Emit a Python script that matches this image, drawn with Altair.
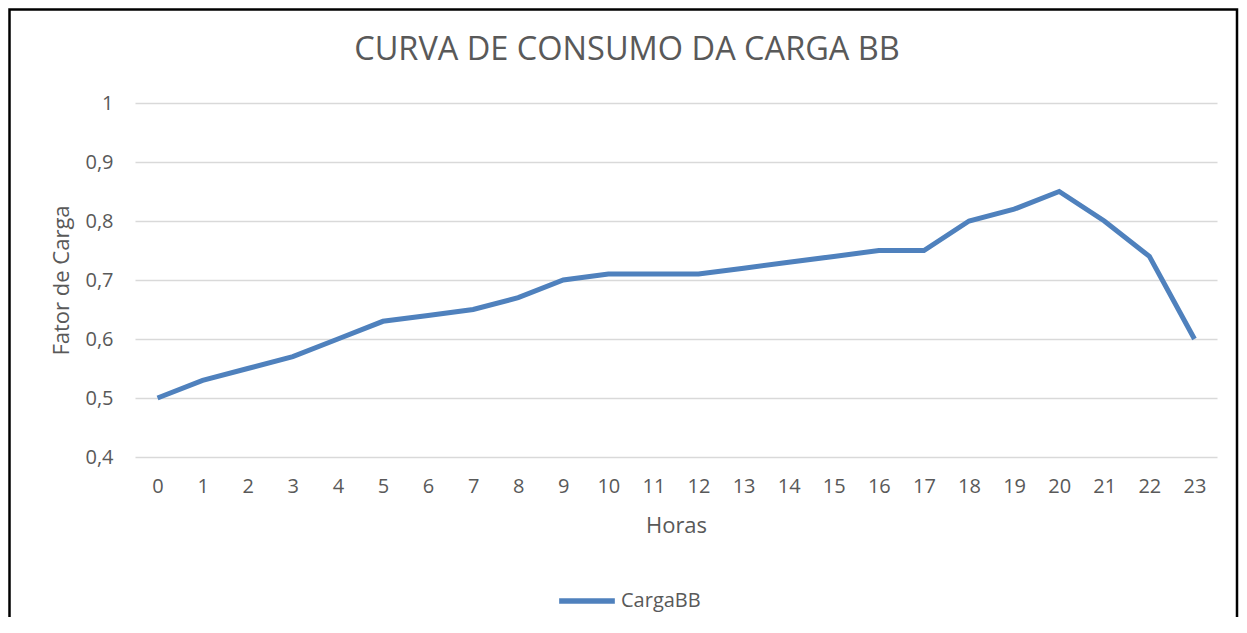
import altair as alt
import pandas as pd

horas = list(range(24))
carga = [0.50, 0.53, 0.55, 0.57, 0.60, 0.63, 0.64, 0.65, 0.67, 0.70, 0.71, 0.71,
         0.71, 0.72, 0.73, 0.74, 0.75, 0.75, 0.80, 0.82, 0.85, 0.80, 0.74, 0.60]
y_ticks = [0.4, 0.5, 0.6, 0.7, 0.8, 0.9, 1.0]
serie = "CargaBB"
titulo = "CURVA DE CONSUMO DA CARGA BB"

df = pd.DataFrame({"Horas": horas, "Carga": carga, "Serie": [serie] * len(horas)})

FONT = "Open Sans"
GREY = "#595959"
BLUE = "#4F81BD"
W, H = 1082, 354

line = alt.Chart(df).mark_line(strokeWidth=5, color=BLUE).encode(
    x=alt.X("Horas:O", sort=horas,
            scale=alt.Scale(padding=0.5),
            axis=alt.Axis(title="Horas", labelAngle=0, domain=False, ticks=False,
                          grid=False, labelPadding=19, titlePadding=19,
                          labelFontSize=20, titleFontSize=22)),
    y=alt.Y("Carga:Q",
            scale=alt.Scale(domain=[0.4, 1.0], nice=False, zero=False),
            axis=alt.Axis(title="Fator de Carga", values=y_ticks, domain=False, ticks=False,
                          gridColor="#d9d9d9", gridWidth=1.5,
                          labelExpr="datum.value == 1 ? '1' : replace(format(datum.value, '.1f'), '.', ',')",
                          labelPadding=22, titlePadding=11,
                          labelFontSize=20, titleFontSize=22)),
    color=alt.Color("Serie:N", scale=alt.Scale(range=[BLUE]),
                    legend=alt.Legend(title=None, orient="none", legendX=421, legendY=467,
                                      symbolType="stroke", symbolSize=3100,
                                      symbolStrokeWidth=5.5, labelFontSize=20,
                                      labelOffset=3)),
)

title_df = pd.DataFrame({"t": [titulo]})
title = alt.Chart(title_df).mark_text(fontSize=32.5, font=FONT, color=GREY,
                                      align="center", baseline="middle").encode(
    text="t:N", x=alt.value(492), y=alt.value(-53))

border = alt.Chart(title_df).mark_rect(fill=None, stroke="black", strokeWidth=2.5).encode(
    x=alt.value(-125.5), x2=alt.value(1102), y=alt.value(-93.5), y2=alt.value(560))

chart = alt.layer(line, title, border).properties(
    width=W, height=H,
    autosize=alt.AutoSizeParams(type="none"),
    padding={"left": 127, "top": 95, "right": 22, "bottom": 160},
).configure(font=FONT).configure_axis(
    labelColor=GREY, titleColor=GREY, labelFont=FONT, titleFont=FONT,
    titleFontWeight="normal",
).configure_legend(labelColor=GREY, labelFont=FONT).configure_view(stroke=None)

chart.save("out.html", embed_options={"renderer": "svg", "actions": False})
